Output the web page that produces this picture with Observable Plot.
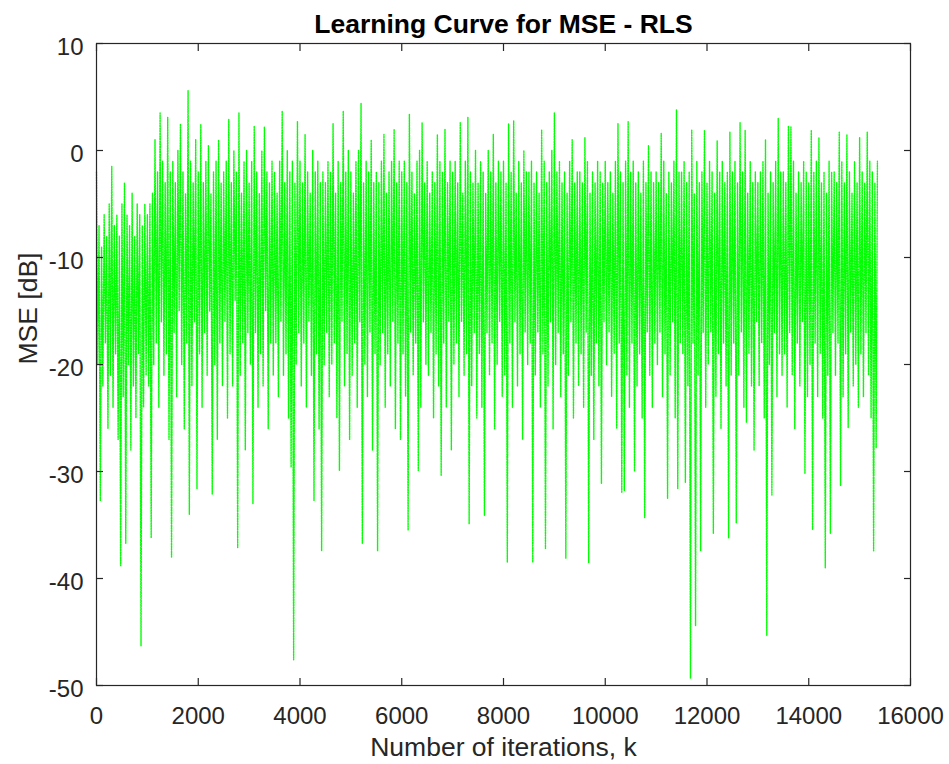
<!DOCTYPE html>
<html>
<head>
<meta charset="utf-8">
<script src="https://cdn.jsdelivr.net/npm/d3@7"></script>
<script src="https://cdn.jsdelivr.net/npm/@observablehq/plot@0.6"></script>
<style>
  html, body { margin: 0; padding: 0; background: #ffffff; }
  #chart svg { display: block; }
</style>
</head>
<body>
<div id="chart"></div>
<script>
// Learning curve of the RLS filter: MSE in dB, one value every 25 iterations
// (alternating the local peak and the local dip of the noisy curve).
const sampleStep = 25;
const mseDb = [
  -2, -20, -7, -32.7, -9, -22, -6, -18, -8, -26, -5, -21, -1.5, -24, -7, -19, -6, -27, -8, -38.8,
  -5, -23, -3, -36.7, -6, -20, -7, -28, -4, -22, -8, -25, -5, -19, -6, -46.3, -7, -24, -5, -21,
  -6, -22, -5, -36.2, -4, -20, 1, -18, -2, -24, 3.5, -16, -1, -21, -3, -19, 3.1, -27, -2, -38,
  -1, -17, -3, -23, 0, -15, 2.5, -20, -2, -26, -4, -18, 5.6, -34, -1, -22, -3, -16, 1, -31.6,
  -2, -19, 2.4, -24, -3, -17, -1, -21, 0.5, -15, -4, -32.1, -2, -20, -1, -27, 1, -18, -3, -22,
  -2, -16, -1, -25, 2.9, -19, -3, -22, 0, -14, -2, -37.1, 3.5, -21, -4, -18, -1, -28, 0, -17,
  -3, -20, -1, -33, 2.3, -17, -2, -24, -4, -19, 0, -22, 2.2, -15, -2, -26, -3, -18, -1, -21,
  -2, -18, -4, -23, -1, -16, 3.7, -21, -3, -19, 0, -25, -2, -29.6, -1, -47.6, -3, -20, 2.7, -17,
  -1, -22, -3, -18, 1.5, -24, -2, -16, -4, -21, 0, -32.7, -2, -19, -1, -26, -3, -37.4, -2, -20,
  -3, -17, -1, -23, -2, -20, 2.5, -18, -4, -25, -1, -29.9, -3, -16, 3.7, -22, -2, -19, 0, -27,
  -2, -21, -4, -18, -1, -24, 0, -16, 4.4, -36.7, -3, -20, -1, -23, -2, -17, 1, -28, -3, -19,
  -2, -37.4, -3, -20, -1, -17, 1.5, -24, -4, -19, -2, -22, -1, -16, 2, -26, -3, -18, -1, -27,
  -2, -19, -1, -23, -3, -35.5, 3.4, -17, -2, -21, -4, -18, -1, -29.9, 0, -24, 2.6, -16, -3, -20,
  -1, -21, -4, -17, -2, -25, -3, -19, 1.5, -22, -1, -30.4, -2, -18, 2, -24, -3, -16, -1, -28,
  -2, -20, -1, -18, -3, -23, 2.6, -16, -4, -21, -1, -19, 3.1, -34.9, -2, -22, -3, -17, 0, -25,
  -3, -19, -1, -24, -2, -34.1, -4, -17, 0, -21, -2, -18, 1.5, -26, -3, -20, -1, -16, -2, -23,
  -1, -21, -3, -38.5, 2.5, -18, -2, -24, 2.8, -16, -4, -22, -1, -19, -3, -27, 0, -17, -2, -20,
  -2, -18, -1, -38.5, -3, -21, -2, -17, -4, -24, 1.9, -19, -1, -37.2, -3, -22, -2, -16, 0, -26,
  3.5, -20, -2, -17, -1, -23, -3, -19, -2, -38.1, -4, -21, -1, -16, 1, -25, -3, -18, -2, -22,
  -2, -19, -3, -24, 1.2, -17, -1, -38.5, -4, -21, -2, -27, -3, -18, -1, -22, -2, -31.1, -3, -16,
  -1, -20, -3, -17, -2, -23, -4, -19, -1, -26, 2.5, -18, -2, -32, -3, -31.8, -1, -21, 2.7, -24,
  -2, -18, -1, -30, -3, -22, -2, -19, -4, -25, -1, -34.3, -3, -17, 0.5, -21, -2, -24, -3, -18,
  -2, -20, -3, -17, 1.6, -23, -1, -19, -4, -32.5, -2, -21, -3, -16, -1, -25, 3.8, -31.6, -2, -18,
  -2, -19, -1, -31, -3, -22, -2, -49.3, 1.9, -18, -4, -44.4, -1, -21, -3, -37.4, -2, -17, 1.9, -24,
  -3, -20, -1, -17, -2, -35.8, -4, -23, 0.9, -19, -2, -26, -1, -18, -3, -22, -2, -36.2, 1.7, -21,
  -2, -18, -1, -34.8, -3, -21, 2.6, -17, -2, -24, 1.9, -25.4, -4, -19, -1, -22, -3, -28, -2, -16,
  -3, -22, -2, -18, -1, -25, 1, -45.3, -4, -20, -2, -32.2, -3, -17, -1, -23, 3, -19, -2, -21,
  -2, -19, -3, -24, 2.3, -17, 2.2, -21, -1, -26, -4, -18, -2, -22, -3, -16, -1, -30.2, -2, -23,
  -3, -20, 1.9, -35.4, -2, -18, -1, -23, 1.2, -19, -3, -25, -2, -39, -4, -21, -1, -35.8, -2, -17,
  -2, -21, -3, -18, 1.7, -31.3, -1, -23, -3, -19, 1.5, -25.9, -2, -17, -4, -22, -1, -20, -3, -24,
  1.2, -19, -2, -23, -3, -17, 1.7, -21, -1, -25, -2, -37.4, -3, -27.8, -1
];

const xTicks = [0, 2000, 4000, 6000, 8000, 10000, 12000, 14000, 16000];
const yTicks = [-50, -40, -30, -20, -10, 0, 10];
const titleText = "Learning Curve for MSE - RLS";
const xLabel = "Number of iterations, k";
const yLabel = "MSE [dB]";

const curve = mseDb.map((v, i) => ({k: i * sampleStep, mse: v}));

const ink = "#262626";
const font = "'Liberation Sans', Arial, Helvetica, sans-serif";

const chart = Plot.plot({
  width: 949,
  height: 764,
  marginLeft: 96,
  marginRight: 39,
  marginTop: 43,
  marginBottom: 79,
  style: {fontFamily: font, background: "#ffffff", color: ink},
  x: {domain: [0, 16000]},
  y: {domain: [-50, 10]},
  marks: [
    // dotted green curve
    Plot.line(curve, {
      x: "k", y: "mse",
      stroke: "#00ff00", strokeWidth: 1.4, strokeDasharray: "1.3,1.3"
    }),
    Plot.frame({stroke: ink, strokeWidth: 1.2}),
    // inward ticks on all four sides
    Plot.axisX({anchor: "bottom", ticks: xTicks, tickSize: -7, fill: "none", stroke: ink, strokeWidth: 1.2}),
    Plot.axisX({anchor: "top", ticks: xTicks, tickSize: -7, fill: "none", stroke: ink, strokeWidth: 1.2}),
    Plot.axisY({anchor: "left", ticks: yTicks, tickSize: -7, fill: "none", stroke: ink, strokeWidth: 1.2}),
    Plot.axisY({anchor: "right", ticks: yTicks, tickSize: -7, fill: "none", stroke: ink, strokeWidth: 1.2}),
    // tick labels
    Plot.axisX({anchor: "bottom", ticks: xTicks, tickSize: 0, tickPadding: 21, fontSize: 24, fill: ink, tickFormat: d => String(d), label: null}),
    Plot.axisY({anchor: "left", ticks: yTicks, tickSize: 0, tickPadding: 13, fontSize: 24, fill: ink, dy: 4, tickFormat: d => String(d), label: null}),
    // title and axis labels
    Plot.text([titleText], {frameAnchor: "top", lineAnchor: "bottom", dy: -11, fontSize: 26.5, fontWeight: "bold", fill: "#000000"}),
    Plot.text([xLabel], {frameAnchor: "bottom", lineAnchor: "bottom", dy: 70, fontSize: 26.5, fill: ink}),
    Plot.text([yLabel], {frameAnchor: "left", lineAnchor: "bottom", rotate: -90, dx: -60, fontSize: 26.5, fill: ink})
  ]
});

document.getElementById("chart").appendChild(chart);
</script>
</body>
</html>
